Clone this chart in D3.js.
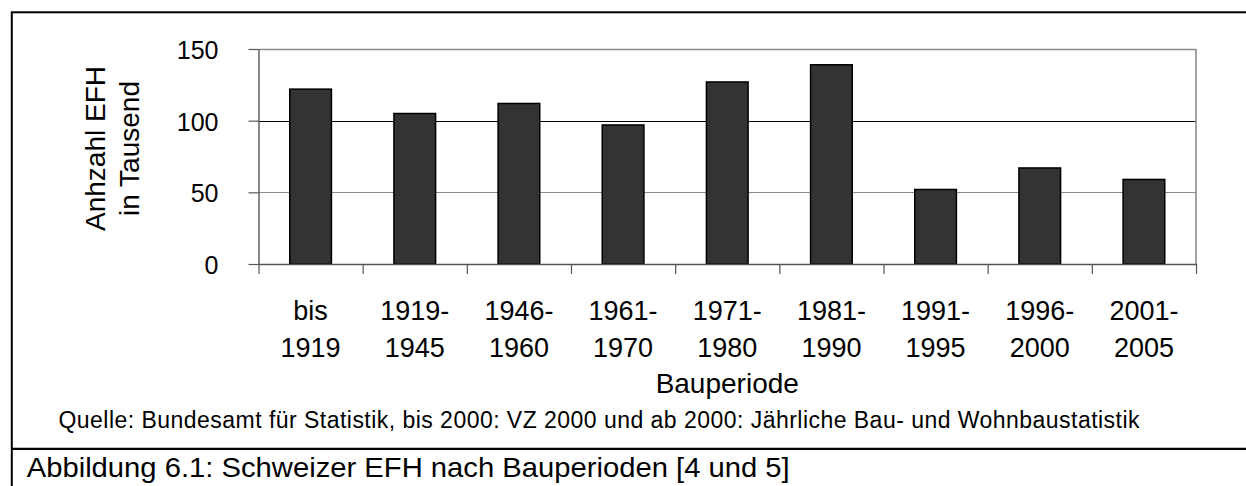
<!DOCTYPE html>
<html>
<head>
<meta charset="utf-8">
<style>
  body { margin: 0; background: #fff; overflow: hidden; }
  svg { display: block; font-family: 'Liberation Sans', Arial, Helvetica, sans-serif; }
</style>
</head>
<body>
<div id="chart-area"></div>
<script src="https://cdn.jsdelivr.net/npm/d3@7/dist/d3.min.js"></script>
<script>
// Schweizer EFH nach Bauperioden (Anzahl in Tausend)
const periods = ['bis 1919', '1919-1945', '1946-1960', '1961-1970', '1971-1980',
                 '1981-1990', '1991-1995', '1996-2000', '2001-2005'];
const counts = [122, 105, 112, 97, 127, 139, 52, 67, 59];
const yTicks = [0, 50, 100, 150];

const yTitle = ['Anhzahl EFH', 'in Tausend'];
const xTitle = 'Bauperiode';
const source = 'Quelle: Bundesamt für Statistik, bis 2000: VZ 2000 und ab 2000: Jährliche Bau- und Wohnbaustatistik';
const caption = 'Abbildung 6.1: Schweizer EFH nach Bauperioden [4 und 5]';

const margin = { top: 49, left: 258.5 };
const width = 1196 - margin.left;
const height = 264 - margin.top;

const svg = d3.select('#chart-area')
  .append('svg')
    .attr('width', 1246)
    .attr('height', 486);

// frame around figure + caption box
svg.append('rect')
  .attr('x', 11.8).attr('y', 12.3)
  .attr('width', 1300).attr('height', 600)
  .attr('fill', 'none')
  .attr('stroke', '#000')
  .attr('stroke-width', 2);

svg.append('line')
  .attr('x1', 11).attr('x2', 1300)
  .attr('y1', 448.8).attr('y2', 448.8)
  .attr('stroke', '#000')
  .attr('stroke-width', 2.2);

const g = svg.append('g')
  .attr('transform', 'translate(' + margin.left + ', ' + margin.top + ')');

const x = d3.scaleBand()
  .domain(periods)
  .range([0, width])
  .paddingInner(0.6)
  .paddingOuter(0.3);

const xEdges = d3.scaleLinear()
  .domain([0, periods.length])
  .range([0, width]);

const y = d3.scaleLinear()
  .domain([0, 150])
  .range([height, 0]);

// gridlines
g.selectAll('.grid')
  .data(yTicks.filter(d => d > 0))
  .enter()
  .append('line')
    .attr('class', 'grid')
    .attr('x1', 0)
    .attr('x2', width)
    .attr('y1', d => Math.round(y(d)) + 0.5)
    .attr('y2', d => Math.round(y(d)) + 0.5)
    .attr('stroke', d => d === 100 ? '#000' : '#8a8a8a')
    .attr('stroke-width', d => d === 150 ? 1.6 : 1.2);

// right border of plot area
g.append('line')
  .attr('x1', width).attr('x2', width)
  .attr('y1', y(150)).attr('y2', height)
  .attr('stroke', '#8a8a8a')
  .attr('stroke-width', 1.6);

// bars
g.selectAll('rect.bar')
  .data(counts)
  .enter()
  .append('rect')
    .attr('class', 'bar')
    .attr('x', (d, i) => x(periods[i]))
    .attr('y', d => y(d))
    .attr('width', x.bandwidth())
    .attr('height', d => height - y(d))
    .attr('fill', '#333333')
    .attr('stroke', '#000')
    .attr('stroke-width', 1.5);

// y axis
const yAxisCall = d3.axisLeft(y)
  .tickValues(yTicks)
  .tickSize(10)
  .tickSizeOuter(0)
  .tickPadding(30);

const yAxisGroup = g.append('g').call(yAxisCall);
yAxisGroup.select('.domain').attr('stroke', '#555').attr('stroke-width', 1.4);
yAxisGroup.selectAll('.tick line').attr('stroke', '#555').attr('stroke-width', 1.2);
yAxisGroup.selectAll('.tick text')
  .attr('font-size', 25)
  .attr('font-family', null)
  .attr('fill', '#000')
  .attr('dy', '0.38em');

// x axis: boundary ticks
const edgeAxisCall = d3.axisBottom(xEdges)
  .tickValues(d3.range(periods.length + 1))
  .tickSize(10)
  .tickSizeOuter(0)
  .tickFormat('');

const edgeAxisGroup = g.append('g')
  .attr('transform', 'translate(0,' + height + ')')
  .call(edgeAxisCall);
edgeAxisGroup.select('.domain').attr('stroke', '#555').attr('stroke-width', 1.4);
edgeAxisGroup.selectAll('.tick line').attr('stroke', '#555').attr('stroke-width', 1.2);

// x axis: category labels in two lines
const xAxisCall = d3.axisBottom(x).tickSize(0);
const xAxisGroup = g.append('g')
  .attr('transform', 'translate(0,' + height + ')')
  .call(xAxisCall);
xAxisGroup.select('.domain').remove();

const splitLabel = d => d.includes('-')
  ? [d.split('-')[0] + '-', d.split('-')[1]]
  : d.split(' ');

xAxisGroup.selectAll('.tick text')
  .attr('font-size', 27)
  .attr('font-family', null)
  .attr('fill', '#000')
  .attr('dy', null)
  .attr('y', null)
  .text(null)
  .each(function(d) {
    const lines = splitLabel(d);
    d3.select(this).selectAll('tspan')
      .data(lines)
      .enter()
      .append('tspan')
        .attr('x', 0)
        .attr('y', (l, i) => 56 + i * 36.7)
        .text(l => l);
  });

// axis titles
g.append('text')
  .attr('x', width / 2)
  .attr('y', 392.7 - margin.top)
  .attr('text-anchor', 'middle')
  .attr('font-size', 28)
  .text(xTitle);

svg.selectAll('.ytitle')
  .data(yTitle)
  .enter()
  .append('text')
    .attr('class', 'ytitle')
    .attr('transform', (d, i) => 'translate(' + (105.3 + i * 34) + ', 148.5) rotate(-90)')
    .attr('text-anchor', 'middle')
    .attr('font-size', 28)
    .text(d => d);

// source + caption
svg.append('text')
  .attr('x', 58.5)
  .attr('y', 427.5)
  .attr('font-size', 23)
  .attr('textLength', 1081)
  .attr('lengthAdjust', 'spacing')
  .text(source);

svg.append('text')
  .attr('x', 26.7)
  .attr('y', 477)
  .attr('font-size', 27.5)
  .attr('textLength', 763)
  .attr('lengthAdjust', 'spacingAndGlyphs')
  .text(caption);
</script>
</body>
</html>
